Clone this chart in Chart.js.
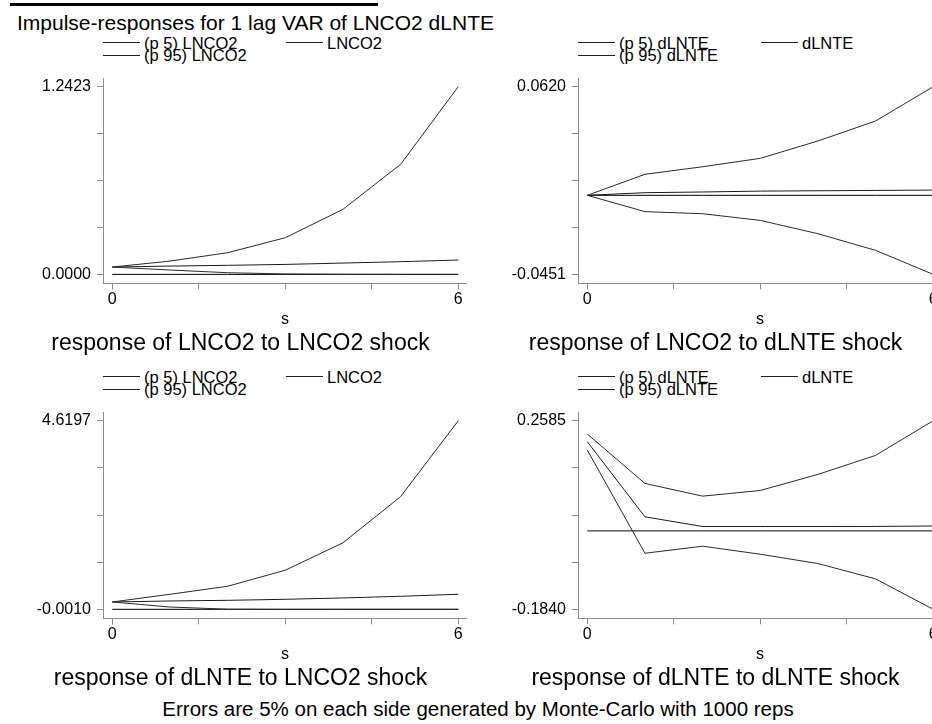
<!DOCTYPE html>
<html>
<head>
<meta charset="utf-8">
<script src="https://cdn.jsdelivr.net/npm/chart.js@4.4.1/dist/chart.umd.min.js"></script>
<style>
  html, body { margin: 0; padding: 0; width: 932px; height: 724px; overflow: hidden; background: #fff; }
  #page { position: relative; width: 932px; height: 724px; overflow: hidden; font-family: "Liberation Sans", Arial, sans-serif; color: #000; }
  canvas { position: absolute; }
  .txt { position: absolute; white-space: nowrap; line-height: 1; }
  .key { position: absolute; height: 16px; font-size: 16.5px; line-height: 16px; white-space: nowrap; display: flex; align-items: center; }
  .key i { display: inline-block; width: 37px; height: 0; border-top: 1px solid #222; margin-right: 4px; }
  #bar { position: absolute; left: 10px; top: 3px; width: 368px; height: 3px; background: #000; }
</style>
</head>
<body>
<div id="page">
  <div id="bar"></div>
  <div class="txt" style="left:17px; top:12px; font-size:21px;">Impulse-responses for 1 lag VAR of LNCO2 dLNTE</div>
  <canvas id="c1" width="453" height="290" style="left:14px; top:70px;"></canvas>
  <canvas id="c2" width="453" height="290" style="left:489px; top:70px;"></canvas>
  <canvas id="c3" width="453" height="291" style="left:14px; top:404px;"></canvas>
  <canvas id="c4" width="453" height="291" style="left:489px; top:404px;"></canvas>
  <div class="txt" style="left:0; width:956px; text-align:center; top:699px; font-size:20.5px;">Errors are 5% on each side generated by Monte-Carlo with 1000 reps</div>
</div>
<script>
// horizon steps
const steps = [0, 1, 2, 3, 4, 5, 6];
const xTicks = [0, 1.5, 3, 4.5, 6];
const xLabels = ['0', '', '', '', '6'];

// response of LNCO2 to LNCO2 shock
const p5A  = [0.0485, 0.0290, 0.0110, 0.0030, 0.0010, 0.0003, 0.0001];
const irfA = [0.0485, 0.0550, 0.0600, 0.0660, 0.0750, 0.0840, 0.0949];
const p95A = [0.0485, 0.0880, 0.1434, 0.2427, 0.4303, 0.7282, 1.2423];
const yLabelsA = ['0.0000', '1.2423'];

// response of LNCO2 to dLNTE shock
const p5B  = [0, -0.0093, -0.0105, -0.0143, -0.0219, -0.0314, -0.0451];
const irfB = [0, 0.0015, 0.0019, 0.0024, 0.0026, 0.0028, 0.0030];
const p95B = [0, 0.0120, 0.0163, 0.0211, 0.0310, 0.0424, 0.0620];
const yLabelsB = ['-0.0451', '0.0620'];

// response of dLNTE to LNCO2 shock
const p5C  = [0.179, 0.056, 0.003, -0.001, -0.0006, -0.0003, -0.0001];
const irfC = [0.179, 0.204, 0.220, 0.245, 0.278, 0.319, 0.368];
const p95C = [0.179, 0.368, 0.564, 0.958, 1.629, 2.760, 4.6197];
const yLabelsC = ['-0.0010', '4.6197'];

// response of dLNTE to dLNTE shock
const p5D  = [0.1896, -0.0524, -0.0359, -0.0547, -0.0766, -0.1126, -0.1840];
const irfD = [0.2092, 0.0330, 0.0103, 0.0103, 0.0103, 0.0105, 0.0115];
const p95D = [0.2272, 0.1113, 0.0815, 0.0948, 0.1325, 0.1771, 0.2585];
const yLabelsD = ['-0.1840', '0.2585'];

const zero = [0, 0, 0, 0, 0, 0, 0];

Chart.defaults.font.family = '"Liberation Sans", Arial, sans-serif';

function pts(arr) {
  return steps.map((s, i) => ({ x: s, y: arr[i] }));
}

function addKey(x, y, label) {
  const d = document.createElement('div');
  d.className = 'key';
  d.style.left = x + 'px';
  d.style.top = (y - 8) + 'px';
  d.innerHTML = '<i></i><span></span>';
  d.querySelector('span').textContent = label;
  document.getElementById('page').appendChild(d);
}

function panel(id, sub, name, p5, irf, p95, yLabels, ox, oy) {
  addKey(103 + ox, 42.5 + oy, '(p 5) ' + name);
  addKey(286 + ox, 42.5 + oy, name);
  addKey(103 + ox, 55 + oy, '(p 95) ' + name);

  const lo = parseFloat(yLabels[0]);
  const hi = parseFloat(yLabels[1]);
  const span = hi - lo;
  const line = (d, c) => ({ data: pts(d), borderColor: c, borderWidth: 1, pointRadius: 0, fill: false, tension: 0 });

  new Chart(document.getElementById(id), {
    type: 'line',
    data: {
      datasets: [
        line(p5, '#2a2a2a'),
        line(irf, '#1a1a1a'),
        line(p95, '#2a2a2a'),
        line(zero, '#000')
      ]
    },
    options: {
      responsive: false,
      animation: false,
      layout: { padding: { top: 8, bottom: 3, left: 0, right: 0 } },
      plugins: {
        legend: { display: false },
        tooltip: { enabled: false },
        title: {
          display: true, position: 'bottom', text: sub, color: '#000',
          font: { size: 23, weight: 'normal', lineHeight: 1.2 },
          padding: { top: 0, bottom: 0 }
        }
      },
      scales: {
        x: {
          type: 'linear', min: -0.161, max: 6.151,
          afterBuildTicks: a => { a.ticks = xTicks.map(v => ({ value: v })); },
          afterFit: a => { a.height = 46; a.paddingLeft = 0; a.paddingRight = 0; },
          border: { display: true, color: '#8c8c8c', width: 1 },
          grid: { display: true, drawOnChartArea: false, drawTicks: true, tickLength: 6, color: '#8c8c8c' },
          ticks: {
            padding: 1, color: '#000', font: { size: 16 }, maxRotation: 0, autoSkip: false,
            callback: (v, i) => xLabels[i]
          },
          title: { display: true, text: 's', color: '#000', font: { size: 16 }, padding: { top: 0, bottom: 0 } }
        },
        y: {
          min: lo - 0.048 * span, max: hi + 0.046 * span,
          afterBuildTicks: a => { a.ticks = [0, 1, 2, 3, 4].map(k => ({ value: lo + k * span / 4 })); },
          afterFit: a => { a.width = 89; a.paddingTop = 0; a.paddingBottom = 0; },
          border: { display: true, color: '#8c8c8c', width: 1 },
          grid: { display: true, drawOnChartArea: false, drawTicks: true, tickLength: 6, color: '#8c8c8c' },
          ticks: {
            padding: 6, color: '#000', font: { size: 16 }, autoSkip: false,
            callback: (v, i) => (i === 0 ? yLabels[0] : i === 4 ? yLabels[1] : '')
          }
        }
      }
    }
  });
}

panel('c1', 'response of LNCO2 to LNCO2 shock', 'LNCO2', p5A, irfA, p95A, yLabelsA, 0, 0);
panel('c2', 'response of LNCO2 to dLNTE shock', 'dLNTE', p5B, irfB, p95B, yLabelsB, 475, 0);
panel('c3', 'response of dLNTE to LNCO2 shock', 'LNCO2', p5C, irfC, p95C, yLabelsC, 0, 334);
panel('c4', 'response of dLNTE to dLNTE shock', 'dLNTE', p5D, irfD, p95D, yLabelsD, 475, 334);
</script>
</body>
</html>
